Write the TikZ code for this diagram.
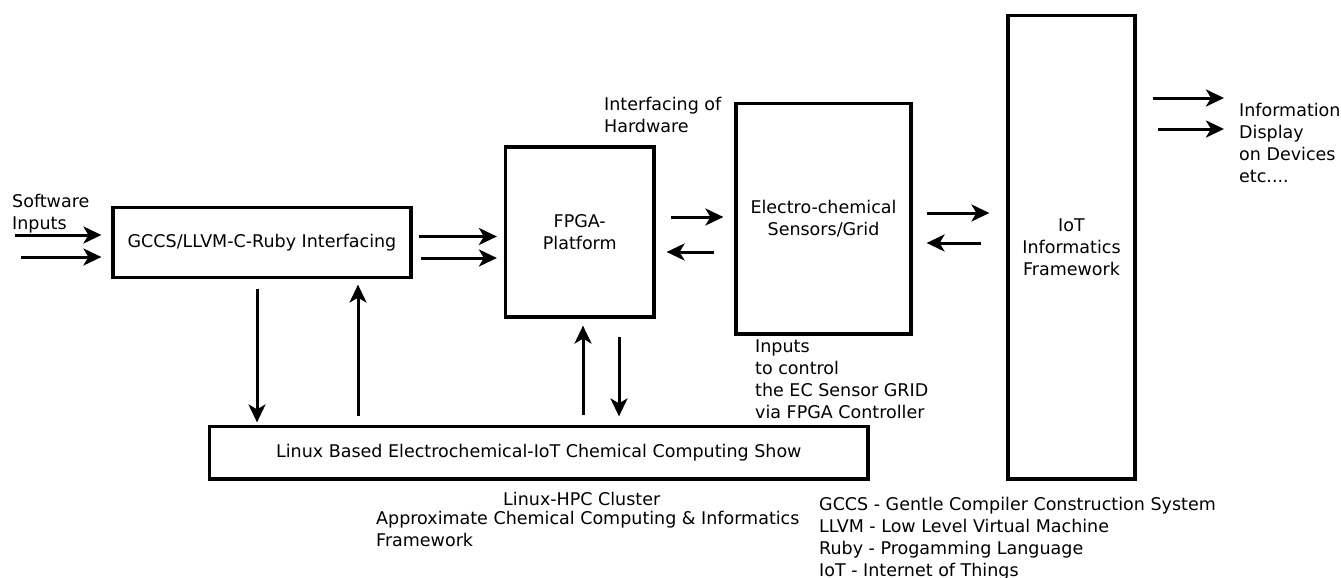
\documentclass[tikz,border=0pt]{standalone}
\usepackage{fontspec}
\setmainfont{DejaVu Sans}
\usepackage{tikz}
\usetikzlibrary{arrows.meta,positioning,calc}

\begin{document}
\begin{tikzpicture}[
  x=1pt, y=-1pt,
  block/.style={draw, line width=3.2pt, inner sep=0pt, align=center, font=\fontsize{17.5}{22}\selectfont},
  note/.style={inner sep=0pt, anchor=north west, align=left, font=\fontsize{17.5}{22}\selectfont},
  arrow/.style={-{Stealth[length=18pt, width=17pt, inset=5pt]}, line width=3pt}
]
  \useasboundingbox (0,0) rectangle (1341,578);

  % Boxes
  \node[block, minimum width=298pt, minimum height=70pt] (gccs) at (262,242.5) {GCCS/LLVM-C-Ruby Interfacing};
  \node[block, minimum width=148.5pt, minimum height=170pt] (fpga) at (579.75,232) {FPGA-\\Platform};
  \node[block, minimum width=175pt, minimum height=230.4pt] (sensor) at (823.5,218.8) {Electro-chemical\\Sensors/Grid};
  \node[block, minimum width=127pt, minimum height=463.2pt] (iot) at (1071.5,247.4) {IoT\\Informatics\\Framework};
  \node[block, minimum width=658.4pt, minimum height=52.5pt] (linux) at (538.8,452.75) {Linux Based Electrochemical-IoT Chemical Computing Show};

  % Labels
  \node[note] (swin) at (12,194.5) {Software\\Inputs};
  \node[note] (hwif) at (604,97.5) {Interfacing of\\Hardware};
  \node[note] (info) at (1239,103) {Information\\Display\\on Devices\\etc....};
  \node[note] (ctrl) at (755,340) {Inputs\\to control\\the EC Sensor GRID\\via FPGA Controller};
  \node[note] (hpc) at (503,492) {Linux-HPC Cluster};
  \node[note] (approx) at (376,511) {Approximate Chemical Computing \& Informatics\\Framework};
  \node[note] (legend) at (819,497) {GCCS - Gentle Compiler Construction System\\LLVM - Low Level Virtual Machine\\Ruby - Progamming Language\\IoT - Internet of Things};

  % Software inputs
  \coordinate (sw1) at (15,235);
  \coordinate (sw2) at (21,257);
  \draw[arrow, shorten >=10pt] (sw1) -- (sw1 -| gccs.west);
  \draw[arrow, shorten >=10pt] (sw2) -- (sw2 -| gccs.west);

  % GCCS to FPGA
  \draw[arrow] ($(gccs.east)+(6,-6)$) -- ($(gccs.east -| fpga.west)+(-7,-6)$);
  \draw[arrow] ($(gccs.east)+(8.5,15.5)$) -- ($(gccs.east -| fpga.west)+(-7,15.5)$);

  % FPGA and sensors
  \draw[arrow] ($(fpga.east)+(15,-15)$) -- ($(fpga.east -| sensor.west)+(-11,-15)$);
  \draw[arrow] ($(fpga.east -| sensor.west)+(-20,20)$) -- ($(fpga.east)+(11,20)$);

  % Sensors and IoT
  \draw[arrow] ($(sensor.east)+(14,-5.8)$) -- ($(sensor.east -| iot.west)+(-17,-5.8)$);
  \draw[arrow] ($(sensor.east -| iot.west)+(-25,24.2)$) -- ($(sensor.east)+(14,24.2)$);

  % Output
  \coordinate (out1) at (1224,98);
  \coordinate (out2) at (1224,129);
  \draw[arrow] ($(iot.east |- out1)+(16,0)$) -- (out1);
  \draw[arrow] ($(iot.east |- out2)+(21,0)$) -- (out2);

  % Linux cluster links
  \draw[arrow] ($(gccs.south)+(-5,9.5)$) -- ($(gccs.south |- linux.north)+(-5,-2.5)$);
  \draw[arrow] ($(gccs.south |- linux.north)+(96,-8.5)$) -- ($(gccs.south)+(96,5.5)$);
  \draw[arrow] ($(fpga.south |- linux.north)+(3.25,-9.5)$) -- ($(fpga.south)+(3.25,7)$);
  \draw[arrow] ($(fpga.south)+(39.25,18)$) -- ($(fpga.south |- linux.north)+(39.25,-8.5)$);
\end{tikzpicture}
\end{document}
